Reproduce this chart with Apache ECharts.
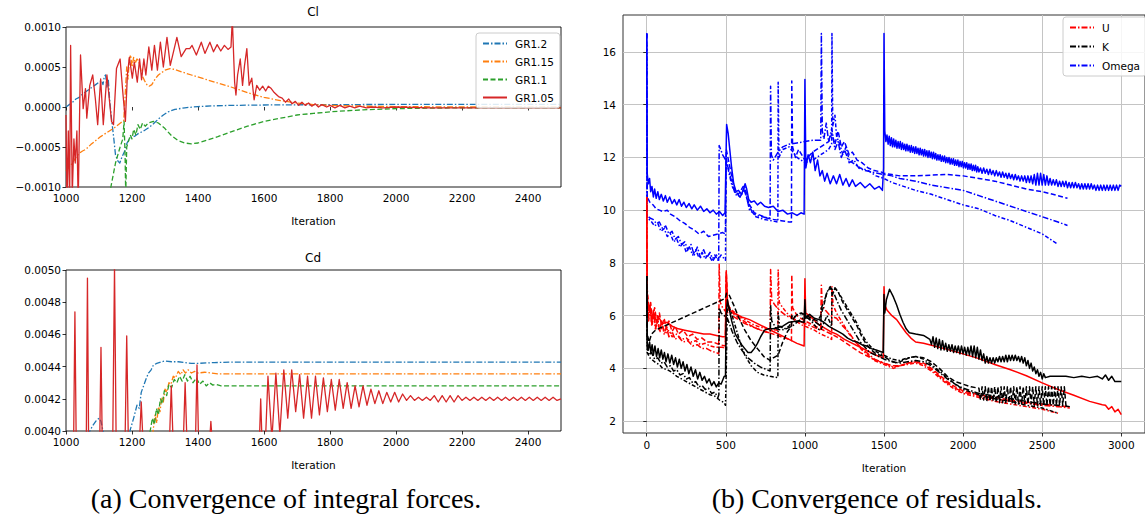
<!DOCTYPE html>
<html>
<head>
<meta charset="utf-8">
<script src="https://cdn.jsdelivr.net/npm/echarts@6/dist/echarts.min.js"></script>
<style>
  html, body { margin: 0; padding: 0; background: #fff; }
  #main { width: 1145px; height: 519px; }
</style>
</head>
<body>
<div id="main"></div>
<script>
// ---- data: [iteration, value] ----
const grNames = ['GR1.2', 'GR1.15', 'GR1.1', 'GR1.05']
const leftTicksX = [1000, 1200, 1400, 1600, 1800, 2000, 2200, 2400]
const rightTicksX = [0, 500, 1000, 1500, 2000, 2500, 3000]
const rightTicksY = [2, 4, 6, 8, 10, 12, 14, 16]

// Cl
const clGR12 = [[1000,0],[1010,0.00003],[1020,0.00006],[1030,0.0001],[1040,0.00012],[1050,0.00016],[1060,0.00019],[1070,0.00022],[1080,0.00025],[1090,0.00028],[1100,0.00031],[1108,0.00033],[1112,0.00028],[1116,0.00038],[1120,0.0004],[1124,0.00025],[1128,0.00035],[1132,0.0001],[1138,-0.00015],[1145,-0.0004],[1150,-0.0006],[1158,-0.00068],[1163,-0.0007],[1170,-0.00062],[1178,-0.00055],[1185,-0.00045],[1192,-0.0004],[1200,-0.00038],[1210,-0.00036],[1220,-0.00033],[1235,-0.0003],[1250,-0.00026],[1265,-0.00021],[1280,-0.00015],[1295,-0.0001],[1310,-0.00006],[1330,-0.00003],[1360,-0.00001],[1400,0.000005],[1450,0.000015],[1500,0.00002],[1600,0.000025],[1800,0.00003],[2000,0.000032],[2500,0.000033]]
const clGR115 = [[1000,-0.0008],[1010,-0.00075],[1020,-0.0007],[1030,-0.00063],[1040,-0.00058],[1050,-0.00055],[1060,-0.00053],[1075,-0.00047],[1090,-0.00042],[1105,-0.00037],[1120,-0.00033],[1135,-0.00029],[1150,-0.00025],[1165,-0.0002],[1175,-0.00017],[1180,0.0002],[1184,0.0005],[1188,0.00035],[1192,0.0006],[1196,0.00065],[1200,0.0005],[1205,0.00062],[1210,0.00055],[1215,0.0006],[1220,0.00058],[1225,0.0005],[1230,0.0004],[1238,0.00033],[1245,0.00028],[1252,0.00026],[1260,0.00028],[1270,0.00035],[1280,0.0004],[1290,0.00043],[1300,0.00046],[1315,0.00048],[1330,0.00047],[1350,0.00044],[1380,0.0004],[1420,0.00035],[1460,0.0003],[1500,0.00025],[1550,0.00018],[1600,0.00012],[1650,0.00008],[1700,0.00005],[1750,0.00003],[1800,0.00002],[1900,0.00001],[2000,0.000005],[2200,0],[2500,0]]
const clGR11 = [[1130,-0.0012],[1136,-0.001],[1150,-0.0007],[1164,-0.0005],[1172,-0.0004],[1176,-0.00018],[1179,-0.0006],[1181,-0.0011],[1184,-0.0005],[1190,-0.00042],[1195,-0.00035],[1200,-0.0004],[1205,-0.00028],[1212,-0.00035],[1218,-0.00022],[1225,-0.00028],[1232,-0.0002],[1240,-0.00024],[1250,-0.0002],[1265,-0.00018],[1280,-0.0002],[1300,-0.00027],[1320,-0.00036],[1340,-0.00042],[1360,-0.00045],[1380,-0.00046],[1400,-0.00045],[1430,-0.00041],[1460,-0.00037],[1500,-0.00031],[1550,-0.00024],[1600,-0.00018],[1650,-0.00014],[1700,-0.0001],[1750,-0.00008],[1800,-0.00006],[1900,-0.000035],[2000,-0.00002],[2200,-0.00001],[2500,-0.00001]]
const clGR105 = [[1000,-0.0001],[1003,-0.0012],[1007,-0.0003],[1011,-0.0012],[1014,0.00077],[1019,-0.0011],[1024,-0.0004],[1028,-0.0007],[1033,-0.0003],[1037,-0.0012],[1044,0.00065],[1052,-0.00002],[1059,0.00023],[1063,-0.00014],[1072,0.00027],[1081,0.0004],[1089,0.0001],[1096,-0.00022],[1105,0.00035],[1113,-0.00022],[1124,0.0004],[1138,-0.00018],[1144,-0.00022],[1153,0.00048],[1164,0.0006],[1172,0.00019],[1180,-0.00018],[1186,0.0004],[1192,0.00062],[1201,0.00036],[1207,0.00056],[1216,0.00031],[1223,0.0006],[1229,0.00034],[1236,0.0006],[1242,0.0004],[1251,0.00075],[1260,0.00046],[1268,0.00077],[1277,0.00046],[1286,0.00081],[1295,0.0005],[1306,0.00087],[1316,0.00052],[1336,0.00087],[1349,0.00063],[1364,0.00073],[1375,0.00073],[1382,0.00077],[1395,0.00065],[1410,0.00081],[1421,0.00067],[1436,0.00081],[1447,0.00069],[1458,0.00078],[1469,0.0007],[1480,0.00077],[1491,0.00072],[1500,0.00075],[1504,0.0011],[1511,0.00031],[1515,0.00015],[1520,0.0004],[1528,0.0006],[1535,0.00027],[1541,0.00052],[1548,0.00073],[1555,0.00027],[1563,0.00036],[1570,0.00009],[1578,0.00027],[1587,0.00021],[1596,0.00026],[1605,0.0002],[1613,0.00026],[1622,0.00023],[1631,0.00018],[1644,0.00013],[1655,0.00011],[1665,0.00006],[1675,0.0001],[1685,0.00004],[1695,0.00007],[1705,0.00002],[1715,0.00006],[1725,0.00002],[1735,0.00005],[1745,0.00001],[1755,0.00004],[1765,0],[1775,0.00003],[1790,0],[1800,0.00002],[1815,-0.00001],[1830,0.00002],[1845,-0.00001],[1860,0.00001],[1875,-0.00001],[1890,0.00001],[1910,-0.00001],[1930,0],[1960,-0.00001],[2000,0],[2100,-0.00001],[2500,-0.00001]]

// Cd
const cdGR12 = [[1060,0.0039],[1070,0.00399],[1080,0.00403],[1090,0.00406],[1100,0.00408],[1106,0.00406],[1110,0.00402],[1118,0.00396],[1130,0.0039],[1160,0.0038],[1185,0.0039],[1195,0.00401],[1205,0.00408],[1215,0.00416],[1222,0.00414],[1228,0.00424],[1235,0.00428],[1242,0.00432],[1250,0.00436],[1258,0.00438],[1265,0.00441],[1275,0.00442],[1290,0.00443],[1300,0.004435],[1320,0.00443],[1340,0.00443],[1360,0.004425],[1380,0.00442],[1400,0.00442],[1450,0.004425],[1500,0.004428],[2500,0.004428]]
const cdGR115 = [[1258,0.0039],[1265,0.00402],[1270,0.0041],[1275,0.00405],[1280,0.00415],[1285,0.00412],[1290,0.00421],[1295,0.00418],[1300,0.00426],[1305,0.00424],[1312,0.0043],[1318,0.00429],[1325,0.00434],[1332,0.00433],[1340,0.00437],[1348,0.00435],[1355,0.00438],[1362,0.00436],[1370,0.00438],[1380,0.00436],[1390,0.00437],[1400,0.00436],[1420,0.004365],[1440,0.00436],[1460,0.004355],[1500,0.004355],[2500,0.004355]]
const cdGR11 = [[1248,0.0039],[1255,0.004],[1262,0.00408],[1268,0.00404],[1274,0.00414],[1280,0.0041],[1286,0.0042],[1292,0.00417],[1298,0.00425],[1305,0.00422],[1312,0.00429],[1320,0.00427],[1328,0.00432],[1336,0.0043],[1344,0.00434],[1352,0.00431],[1360,0.00435],[1368,0.00431],[1376,0.00434],[1385,0.0043],[1395,0.00433],[1405,0.00429],[1415,0.00431],[1425,0.00428],[1435,0.0043],[1445,0.004285],[1455,0.00429],[1470,0.00428],[1500,0.00428],[2500,0.00428]]
const cdGR105 = [[1000,0.003],[1020,0.0033],[1027,0.00474],[1034,0.0033],[1050,0.003],[1060,0.0035],[1065,0.00495],[1070,0.0035],[1085,0.003],[1100,0.0036],[1106,0.00452],[1112,0.0036],[1130,0.003],[1141,0.0038],[1147,0.00502],[1153,0.0037],[1168,0.003],[1178,0.0038],[1184,0.00459],[1190,0.0038],[1210,0.0032],[1222,0.0039],[1228,0.00418],[1234,0.0039],[1260,0.0033],[1313,0.0039],[1319,0.00428],[1325,0.0039],[1340,0.0034],[1355,0.0039],[1361,0.0043],[1367,0.0039],[1385,0.0034],[1392,0.0039],[1397,0.00441],[1402,0.0039],[1420,0.0035],[1434,0.0039],[1439,0.00406],[1444,0.0039],[1480,0.0033],[1550,0.0033],[1584,0.0038],[1590,0.0042],[1596,0.0038],[1600,0.0037],[1612,0.00434],[1624,0.00395],[1636,0.00436],[1648,0.00398],[1660,0.00438],[1672,0.00408],[1684,0.00438],[1696,0.00412],[1708,0.00435],[1720,0.00408],[1732,0.00434],[1744,0.00408],[1756,0.00434],[1768,0.0041],[1780,0.00433],[1792,0.00412],[1804,0.00432],[1816,0.00413],[1828,0.00432],[1840,0.00414],[1852,0.0043],[1864,0.00414],[1876,0.00428],[1888,0.00415],[1900,0.00428],[1912,0.00416],[1924,0.00426],[1936,0.00417],[1948,0.00425],[1960,0.00417],[1972,0.00424],[1984,0.00418],[1996,0.00424],[2008,0.00418],[2020,0.00423],[2032,0.00419],[2044,0.00422],[2056,0.00419],[2068,0.00421],[2080,0.00419],[2092,0.00421],[2104,0.00419],[2116,0.00422],[2128,0.00418],[2140,0.00422],[2152,0.00418],[2164,0.00422],[2176,0.00418],[2188,0.00422],[2200,0.00419],[2212,0.00421],[2224,0.00419],[2236,0.00421],[2248,0.00419],[2260,0.00421],[2272,0.00419],[2284,0.00421],[2296,0.00419],[2308,0.00421],[2320,0.00419],[2332,0.00421],[2344,0.00419],[2356,0.00421],[2368,0.00419],[2380,0.00421],[2392,0.00419],[2404,0.00421],[2416,0.00419],[2428,0.00421],[2440,0.00419],[2452,0.00421],[2464,0.00419],[2476,0.00421],[2488,0.00419],[2500,0.0042]]

// residuals, runs A (solid), B (dashed), C (dash-dot), D (dash-dot)
const omegaA = [[0,16.7],[3,11.4],[10,11.0],[18,11.2],[25,10.7],[33,10.9],[42,10.5],[50,10.8],[60,10.45],[70,10.7],[80,10.4],[92,10.6],[105,10.35],[118,10.55],[130,10.3],[145,10.5],[160,10.25],[175,10.4],[190,10.2],[205,10.4],[220,10.15],[235,10.3],[250,10.1],[268,10.25],[285,10.05],[300,10.2],[320,10.0],[340,10.15],[360,9.95],[380,10.05],[400,9.9],[420,10.0],[440,9.85],[460,9.95],[480,9.8],[495,9.9],[505,13.25],[515,12.9],[525,12.3],[537,11.6],[550,11.0],[565,10.7],[580,10.75],[600,10.6],[612,10.8],[622,11.0],[632,10.8],[645,10.4],[660,10.3],[680,10.35],[700,10.2],[720,10.3],[745,10.15],[770,10.1],[800,10.15],[830,9.95],[860,10.0],[890,9.85],[920,9.9],[950,9.8],[975,9.9],[995,9.85],[1000,14.95],[1006,11.6],[1020,12.1],[1035,11.8],[1050,12.2],[1065,11.5],[1080,11.9],[1095,11.3],[1110,11.5],[1125,11.1],[1140,11.4],[1160,11.0],[1180,11.3],[1200,11.0],[1220,11.35],[1240,10.95],[1260,11.2],[1280,10.9],[1300,11.15],[1320,10.9],[1350,11.05],[1380,10.85],[1410,11.0],[1440,10.8],[1470,10.9],[1490,10.75],[1497,11.6],[1500,16.7],[1505,13.0],[1512,12.6],[1519,12.85],[1526,12.5],[1533,12.8],[1540,12.45],[1547,12.75],[1554,12.4],[1561,12.7],[1568,12.4],[1575,12.65],[1582,12.35],[1589,12.6],[1596,12.35],[1603,12.6],[1610,12.3],[1617,12.55],[1624,12.3],[1631,12.5],[1638,12.25],[1645,12.5],[1652,12.25],[1659,12.45],[1666,12.2],[1673,12.45],[1680,12.2],[1687,12.4],[1694,12.15],[1701,12.4],[1708,12.15],[1715,12.35],[1722,12.1],[1729,12.35],[1736,12.1],[1743,12.3],[1750,12.05],[1757,12.3],[1764,12.05],[1771,12.25],[1778,12.0],[1785,12.25],[1792,12.0],[1799,12.2],[1806,11.95],[1813,12.2],[1820,11.95],[1827,12.15],[1834,11.9],[1841,12.1],[1848,11.9],[1855,12.1],[1862,11.85],[1869,12.05],[1876,11.85],[1883,12.05],[1890,11.8],[1897,12.0],[1904,11.8],[1911,12.0],[1918,11.75],[1925,11.95],[1932,11.75],[1939,11.95],[1946,11.7],[1953,11.9],[1960,11.7],[1967,11.9],[1974,11.65],[1981,11.85],[1988,11.65],[1995,11.85],[2002,11.6],[2009,11.8],[2016,11.6],[2023,11.8],[2030,11.55],[2037,11.75],[2044,11.55],[2051,11.75],[2058,11.5],[2065,11.7],[2072,11.5],[2079,11.7],[2086,11.45],[2093,11.65],[2100,11.45],[2110,11.6],[2120,11.4],[2130,11.6],[2140,11.4],[2150,11.55],[2160,11.35],[2170,11.55],[2180,11.35],[2190,11.5],[2200,11.3],[2210,11.5],[2220,11.3],[2230,11.45],[2240,11.25],[2250,11.45],[2260,11.25],[2270,11.4],[2280,11.2],[2290,11.4],[2300,11.2],[2310,11.35],[2320,11.15],[2330,11.35],[2340,11.15],[2350,11.3],[2360,11.1],[2370,11.3],[2380,11.1],[2390,11.3],[2400,11.05],[2410,11.3],[2420,11.05],[2430,11.3],[2440,11.0],[2450,11.35],[2460,10.95],[2470,11.4],[2480,10.95],[2490,11.4],[2500,10.95],[2510,11.35],[2520,10.95],[2530,11.3],[2540,10.95],[2550,11.2],[2560,10.95],[2570,11.15],[2580,10.95],[2590,11.15],[2600,10.9],[2610,11.1],[2620,10.9],[2630,11.1],[2640,10.9],[2650,11.1],[2660,10.85],[2670,11.05],[2680,10.85],[2690,11.05],[2700,10.85],[2710,11.05],[2720,10.85],[2730,11.0],[2740,10.8],[2750,11.0],[2760,10.8],[2770,11.0],[2780,10.8],[2790,11.0],[2800,10.8],[2810,11.0],[2820,10.8],[2830,10.95],[2840,10.75],[2850,10.95],[2860,10.75],[2870,10.95],[2880,10.75],[2890,10.95],[2900,10.75],[2910,10.95],[2920,10.75],[2930,10.95],[2940,10.75],[2950,10.95],[2960,10.75],[2970,10.95],[2980,10.75],[2990,10.95],[3000,10.9]]
const omegaB = [[0,16.7],[3,10.5],[20,10.3],[40,10.2],[60,10.05],[80,10.0],[100,9.95],[130,10.0],[150,9.85],[180,9.75],[210,9.6],[240,9.5],[270,9.35],[300,9.25],[330,9.1],[360,9.2],[390,9.0],[420,9.05],[450,9.1],[480,9.15],[497,9.1],[503,12.3],[520,11.8],[540,11.2],[560,10.7],[580,10.6],[610,10.9],[640,10.3],[680,9.9],[720,9.8],[760,9.7],[800,9.65],[850,9.6],[900,9.55],[915,9.55],[917,14.9],[922,12.4],[940,12.0],[960,12.3],[1000,11.9],[1050,12.2],[1100,12.4],[1150,12.6],[1170,12.9],[1190,12.5],[1210,13.0],[1230,12.4],[1250,12.6],[1280,12.1],[1300,12.2],[1330,11.9],[1360,11.8],[1400,11.6],[1440,11.5],[1480,11.45],[1500,11.4],[1550,11.35],[1600,11.3],[1700,11.3],[1800,11.33],[1900,11.35],[2000,11.3],[2100,11.2],[2200,11.1],[2300,10.95],[2400,10.8],[2500,10.7],[2600,10.55],[2660,10.45]]
const omegaC = [[0,16.7],[3,9.8],[20,9.7],[40,9.65],[60,9.5],[80,9.55],[100,9.3],[120,9.4],[140,9.1],[160,9.2],[180,8.9],[200,9.0],[220,8.7],[240,8.8],[260,8.5],[280,8.7],[300,8.3],[320,8.6],[340,8.2],[360,8.5],[380,8.2],[400,8.4],[420,8.1],[440,8.3],[455,8.1],[458,12.45],[480,12.1],[500,11.9],[520,11.5],[540,11.0],[560,10.6],[590,10.5],[620,10.8],[650,10.0],[690,9.8],[730,9.75],[770,9.7],[780,9.7],[783,14.7],[788,12.1],[800,11.9],[830,12.2],[860,12.4],[900,12.5],[950,12.55],[1000,12.6],[1050,12.65],[1100,12.65],[1104,16.7],[1110,13.0],[1120,12.7],[1135,13.3],[1150,12.6],[1170,13.1],[1190,12.3],[1210,12.6],[1230,12.0],[1250,12.3],[1280,11.8],[1310,11.9],[1340,11.6],[1380,11.5],[1420,11.45],[1460,11.4],[1500,11.35],[1550,11.3],[1600,11.2],[1700,11.1],[1800,10.95],[1900,10.85],[2000,10.75],[2100,10.55],[2200,10.35],[2300,10.15],[2400,9.95],[2500,9.75],[2600,9.55],[2660,9.42]]
const omegaD = [[0,16.7],[3,9.7],[25,9.6],[50,9.4],[70,9.5],[90,9.2],[110,9.3],[130,9.0],[150,9.1],[170,8.8],[190,8.9],[210,8.6],[230,8.75],[250,8.4],[270,8.6],[290,8.3],[310,8.5],[330,8.2],[350,8.4],[370,8.15],[390,8.35],[410,8.1],[430,8.3],[450,8.1],[470,8.3],[498,8.1],[502,12.0],[520,11.4],[540,10.9],[560,10.7],[590,10.5],[620,10.9],[650,10.1],[690,9.75],[740,9.65],[790,9.6],[829,9.55],[831,14.85],[836,12.0],[860,12.3],[900,12.4],[950,12.0],[1000,11.8],[1050,11.9],[1100,12.1],[1150,12.3],[1169,12.5],[1171,16.7],[1176,13.2],[1190,13.6],[1200,12.8],[1220,12.5],[1240,12.1],[1260,12.4],[1280,11.9],[1300,11.8],[1350,11.6],[1400,11.5],[1450,11.3],[1500,11.2],[1550,11.05],[1600,10.95],[1700,10.75],[1800,10.6],[1900,10.4],[2000,10.2],[2100,10.05],[2200,9.8],[2300,9.6],[2400,9.35],[2500,9.1],[2600,8.7]]

const kA = [[0,7.5],[3,5.0],[10,4.7],[18,5.0],[26,4.6],[34,4.9],[42,4.5],[52,4.85],[62,4.45],[72,4.75],[82,4.4],[92,4.7],[102,4.35],[112,4.6],[122,4.25],[134,4.55],[146,4.2],[158,4.5],[170,4.15],[182,4.4],[194,4.05],[206,4.35],[218,4.0],[230,4.25],[242,3.9],[254,4.15],[266,3.8],[280,4.05],[294,3.7],[308,3.95],[322,3.6],[336,3.85],[350,3.55],[365,3.7],[380,3.45],[395,3.6],[410,3.35],[425,3.5],[440,3.3],[455,3.45],[470,3.4],[490,3.7],[498,3.7],[502,6.0],[510,6.6],[520,6.3],[537,5.8],[560,5.3],[580,5.1],[600,4.9],[620,4.75],[640,4.6],[660,4.6],[680,4.75],[700,4.95],[720,5.2],[745,5.45],[770,5.5],[800,5.5],[830,5.55],[860,5.6],[900,5.75],[950,5.8],[995,5.75],[1000,6.6],[1005,5.9],[1030,6.05],[1060,5.9],[1090,5.85],[1120,5.75],[1150,5.6],[1180,5.5],[1210,5.4],[1240,5.3],[1270,5.15],[1300,5.05],[1330,5.0],[1360,4.9],[1390,4.85],[1420,4.75],[1450,4.7],[1495,4.6],[1500,6.8],[1505,6.1],[1515,6.6],[1535,7.0],[1560,6.7],[1580,6.4],[1600,6.05],[1620,5.75],[1640,5.5],[1660,5.35],[1700,5.3],[1750,5.25],[1790,5.1],[1800,4.9],[1810,5.2],[1820,4.8],[1830,5.15],[1840,4.75],[1850,5.1],[1860,4.7],[1870,5.05],[1880,4.7],[1890,4.95],[1900,4.65],[1910,4.9],[1920,4.65],[1930,4.9],[1940,4.6],[1950,4.85],[1960,4.6],[1970,4.85],[1980,4.55],[1990,4.85],[2000,4.55],[2010,4.8],[2020,4.5],[2030,4.8],[2040,4.5],[2050,4.85],[2060,4.45],[2070,4.85],[2080,4.4],[2090,4.8],[2100,4.35],[2110,4.7],[2120,4.3],[2130,4.55],[2140,4.2],[2150,4.45],[2160,4.2],[2170,4.4],[2180,4.2],[2190,4.4],[2200,4.2],[2210,4.4],[2220,4.25],[2230,4.45],[2240,4.25],[2250,4.45],[2260,4.25],[2270,4.5],[2280,4.25],[2290,4.5],[2300,4.3],[2310,4.5],[2320,4.3],[2330,4.5],[2340,4.3],[2350,4.45],[2360,4.25],[2370,4.45],[2380,4.2],[2390,4.4],[2400,4.1],[2410,4.3],[2420,4.0],[2430,4.2],[2440,3.9],[2450,4.05],[2460,3.8],[2470,3.95],[2480,3.7],[2490,3.85],[2500,3.6],[2510,3.8],[2520,3.65],[2550,3.7],[2600,3.7],[2650,3.7],[2700,3.65],[2750,3.7],[2800,3.65],[2850,3.7],[2880,3.6],[2900,3.75],[2920,3.55],[2940,3.7],[2960,3.5],[2980,3.5],[3000,3.5]]
const kB = [[0,7.5],[3,5.3],[15,5.0],[30,5.3],[55,5.45],[496,6.65],[505,6.85],[520,6.8],[550,6.4],[580,5.95],[620,5.45],[660,5.05],[700,4.75],[740,4.45],[780,4.3],[800,4.4],[830,4.5],[860,5.0],[890,5.4],[915,5.6],[917,6.0],[930,5.9],[960,6.1],[1000,6.05],[1040,5.9],[1080,5.8],[1100,6.0],[1120,6.4],[1140,6.9],[1160,7.05],[1175,6.8],[1190,7.05],[1210,6.9],[1240,6.5],[1270,6.2],[1300,5.9],[1330,5.6],[1360,5.2],[1390,4.9],[1420,4.7],[1450,4.55],[1500,4.45],[1540,4.3],[1580,4.2],[1620,4.3],[1660,4.4],[1700,4.45],[1750,4.4],[1800,4.25],[1850,4.0],[1900,3.7],[1950,3.5],[2000,3.4],[2050,3.3],[2100,3.25],[2110,2.8],[2120,3.3],[2130,2.8],[2140,3.3],[2150,2.75],[2160,3.3],[2170,2.75],[2180,3.3],[2190,2.75],[2200,3.3],[2210,2.7],[2220,3.3],[2230,2.7],[2240,3.3],[2250,2.7],[2260,3.3],[2270,2.7],[2280,3.3],[2290,2.7],[2300,3.3],[2310,2.7],[2320,3.3],[2330,2.65],[2340,3.3],[2350,2.65],[2360,3.3],[2370,2.65],[2380,3.3],[2390,2.65],[2400,3.3],[2410,2.65],[2420,3.3],[2430,2.65],[2440,3.3],[2450,2.6],[2460,3.3],[2470,2.6],[2480,3.3],[2490,2.6],[2500,3.3],[2510,2.6],[2520,3.3],[2530,2.6],[2540,3.3],[2550,2.6],[2560,3.3],[2570,2.6],[2580,3.3],[2590,2.6],[2600,3.3],[2610,2.6],[2620,3.3],[2630,2.6],[2640,3.3],[2650,2.6],[2660,2.6]]
const kC = [[0,7.5],[3,4.8],[15,4.5],[30,4.6],[50,4.35],[70,4.4],[90,4.2],[110,4.25],[130,4.05],[150,4.1],[170,3.9],[190,3.95],[210,3.75],[230,3.8],[250,3.6],[270,3.65],[290,3.45],[310,3.5],[330,3.3],[350,3.35],[370,3.2],[390,3.25],[410,3.05],[430,3.1],[450,2.9],[456,3.0],[458,6.3],[470,6.1],[490,6.0],[510,5.9],[540,5.4],[570,5.0],[600,4.7],[640,4.4],[680,4.2],[720,4.05],[760,3.95],[780,3.9],[783,6.4],[790,5.8],[820,5.5],[850,5.45],[880,5.5],[920,5.6],[960,5.8],[1000,5.95],[1040,5.85],[1080,5.7],[1100,5.6],[1104,6.3],[1120,6.5],[1140,6.9],[1160,7.1],[1180,6.9],[1200,6.6],[1230,6.2],[1260,5.9],[1290,5.6],[1320,5.3],[1350,5.0],[1380,4.8],[1410,4.6],[1450,4.5],[1500,4.35],[1550,4.25],[1600,4.2],[1650,4.25],[1700,4.3],[1750,4.25],[1800,4.1],[1850,3.85],[1900,3.6],[1950,3.4],[2000,3.25],[2050,3.15],[2100,3.05],[2200,2.95],[2300,2.85],[2400,2.75],[2500,2.65],[2600,2.6],[2675,2.55]]
const kD = [[0,7.5],[3,4.6],[20,4.4],[40,4.3],[60,4.2],[80,4.15],[100,4.0],[130,3.95],[160,3.85],[190,3.7],[220,3.6],[250,3.5],[280,3.4],[310,3.3],[340,3.2],[370,3.1],[400,3.0],[430,2.95],[460,2.8],[490,2.7],[498,2.6],[502,3.7],[510,6.4],[530,6.2],[560,5.6],[590,5.0],[620,4.5],[660,4.1],[700,3.85],[740,3.75],[780,3.7],[829,3.65],[831,6.1],[840,5.6],[870,5.5],[900,5.6],[940,6.0],[980,6.1],[1000,6.0],[1040,5.8],[1080,5.5],[1100,5.45],[1140,6.0],[1169,5.6],[1171,7.0],[1190,7.05],[1210,6.9],[1240,6.6],[1270,6.3],[1300,6.0],[1330,5.7],[1360,5.3],[1390,5.0],[1420,4.8],[1460,4.6],[1500,4.5],[1550,4.35],[1600,4.3],[1650,4.4],[1700,4.45],[1750,4.35],[1800,4.15],[1850,3.9],[1900,3.65],[1950,3.4],[2000,3.2],[2100,3.0],[2200,2.85],[2300,2.75],[2400,2.6],[2500,2.5],[2600,2.3]]

const uA = [[0,10.5],[3,6.8],[10,6.2],[20,6.4],[30,5.9],[45,6.1],[60,5.8],[80,5.9],[100,5.7],[130,5.75],[160,5.6],[200,5.5],[240,5.45],[280,5.4],[320,5.35],[360,5.3],[400,5.3],[440,5.25],[480,5.2],[497,5.2],[503,7.65],[510,6.6],[520,6.2],[550,6.1],[600,5.95],[650,5.85],[700,5.7],[750,5.55],[800,5.4],[850,5.25],[900,5.1],[950,4.95],[995,4.85],[1000,7.4],[1005,6.1],[1030,6.0],[1080,5.7],[1120,5.55],[1160,5.4],[1200,5.3],[1250,5.1],[1300,4.95],[1350,4.8],[1400,4.65],[1450,4.5],[1495,4.4],[1500,7.1],[1505,6.4],[1520,6.2],[1550,6.0],[1580,5.85],[1610,5.6],[1640,5.35],[1670,5.15],[1700,5.0],[1750,4.95],[1800,4.88],[1900,4.72],[2000,4.55],[2100,4.37],[2200,4.15],[2300,3.95],[2400,3.72],[2500,3.45],[2600,3.2],[2700,2.98],[2800,2.75],[2880,2.62],[2900,2.6],[2920,2.45],[2940,2.55],[2960,2.35],[2980,2.45],[3000,2.25]]
const uB = [[0,10.5],[3,7.0],[15,6.2],[25,6.5],[35,5.8],[50,6.3],[65,5.7],[80,6.1],[95,5.6],[110,5.9],[125,5.5],[140,5.8],[160,5.4],[180,5.6],[200,5.3],[230,5.45],[260,5.2],[290,5.3],[320,5.1],[350,5.15],[380,5.0],[420,5.0],[460,4.9],[497,4.85],[503,7.7],[510,6.5],[530,6.2],[560,6.0],[600,5.85],[650,5.65],[700,5.5],[750,5.4],[800,5.3],[850,5.2],[900,5.1],[915,5.05],[917,7.55],[922,6.3],[950,6.0],[1000,5.8],[1050,5.65],[1100,5.5],[1150,5.35],[1200,5.2],[1250,5.0],[1300,4.8],[1350,4.6],[1400,4.45],[1450,4.3],[1500,4.2],[1550,4.1],[1600,4.1],[1650,4.2],[1700,4.25],[1750,4.2],[1800,4.0],[1850,3.75],[1900,3.5],[1950,3.3],[2000,3.15],[2100,3.0],[2200,2.9],[2300,2.8],[2400,2.72],[2500,2.65],[2600,2.58],[2660,2.55]]
const uC = [[0,10.5],[3,6.5],[12,5.9],[22,6.4],[32,5.7],[42,6.2],[55,5.5],[68,6.0],[80,5.4],[95,5.8],[110,5.3],[125,5.6],[140,5.2],[160,5.4],[180,5.1],[200,5.2],[230,5.0],[260,5.05],[290,4.85],[320,4.9],[350,4.75],[380,4.75],[410,4.65],[440,4.6],[455,4.55],[458,7.95],[465,6.5],[480,6.3],[500,6.15],[540,6.0],[580,5.85],[620,5.7],[660,5.6],[700,5.5],[740,5.4],[780,5.35],[783,7.75],[790,6.6],[810,6.4],[840,6.2],[880,6.0],[920,5.9],[960,5.8],[1000,5.7],[1040,5.6],[1080,5.5],[1100,5.45],[1104,7.15],[1110,6.4],[1130,6.2],[1160,6.0],[1200,5.9],[1240,5.6],[1280,5.35],[1320,5.0],[1360,4.75],[1400,4.55],[1440,4.35],[1480,4.25],[1520,4.15],[1560,4.05],[1600,4.1],[1650,4.2],[1700,4.25],[1750,4.15],[1800,3.95],[1850,3.7],[1900,3.45],[1950,3.25],[2000,3.1],[2100,2.95],[2200,2.85],[2300,2.75],[2400,2.68],[2500,2.6],[2600,2.55],[2675,2.5]]
const uD = [[0,10.5],[3,6.3],[12,5.8],[22,6.2],[32,5.6],[45,6.0],[58,5.5],[70,5.8],[85,5.4],[100,5.6],[120,5.3],[140,5.45],[160,5.2],[190,5.3],[220,5.1],[250,5.15],[280,5.0],[310,5.05],[340,4.9],[370,4.95],[400,4.85],[440,4.8],[480,4.8],[498,4.75],[502,7.5],[510,6.4],[540,6.2],[580,6.0],[620,5.85],[660,5.7],[700,5.6],[760,5.5],[829,5.45],[831,7.75],[838,6.5],[860,6.3],[900,6.0],[940,5.8],[980,5.65],[1020,5.55],[1060,5.45],[1100,5.3],[1140,5.2],[1169,5.1],[1171,7.1],[1178,6.4],[1200,6.1],[1240,5.7],[1280,5.3],[1320,5.0],[1360,4.7],[1400,4.5],[1440,4.3],[1480,4.2],[1520,4.1],[1560,4.0],[1600,4.1],[1650,4.15],[1700,4.2],[1750,4.1],[1800,3.9],[1850,3.65],[1900,3.4],[1950,3.2],[2000,3.05],[2100,2.9],[2200,2.75],[2300,2.65],[2400,2.55],[2500,2.45],[2600,2.3]]

// ---- styles ----
const FONT = 'DejaVu Sans'
const DASHDOT = [6, 2, 1.5, 2]
const DASHDOT2 = [4, 2, 1.5, 2]
const DASHED = [5, 2.5]
const grColors = ['#1f77b4', '#ff7f0e', '#2ca02c', '#d62728']
const grDash = [DASHDOT, DASHDOT, DASHED, 'solid']

function line(name, data, color, dash, idx, width) {
    return {
        name: name,
        type: 'line',
        data: data,
        xAxisIndex: idx,
        yAxisIndex: idx,
        symbol: 'none',
        clip: true,
        silent: true,
        lineStyle: { color: color, width: width, type: dash, cap: 'butt', join: 'round' },
        itemStyle: { color: color }
    }
}

function coefLabel(v) {
    var s = Math.abs(v).toFixed(4)
    return (v < -1e-12 ? '\u2212' : '') + s
}

function plain(v) {
    return String(Math.round(v))
}

const tickLabel = { fontFamily: FONT, fontSize: 10.5, color: '#000' }

function leftX(idx) {
    return {
        type: 'value', gridIndex: idx, min: 1000, max: 2500,
        name: 'Iteration', nameLocation: 'middle', nameGap: 28,
        nameTextStyle: { fontFamily: FONT, fontSize: 10.5, color: '#000' },
        axisLine: { show: false },
        axisTick: { length: 3.5, lineStyle: { color: '#000', width: 0.8 }, customValues: leftTicksX },
        axisLabel: Object.assign({ margin: 5, customValues: leftTicksX, formatter: plain }, tickLabel),
        splitLine: { show: false }
    }
}

function leftY(idx, min, max, step) {
    return {
        type: 'value', gridIndex: idx, min: min, max: max, interval: step,
        axisLine: { show: false },
        axisTick: { show: true, length: 3.5, lineStyle: { color: '#000', width: 0.8 } },
        axisLabel: Object.assign({ margin: 5, formatter: coefLabel }, tickLabel),
        splitLine: { show: false }
    }
}

function legendBox(left, top, names, gap) {
    return {
        left: left, top: top, orient: 'vertical', data: names,
        itemWidth: 24, itemHeight: 10, itemGap: gap,
        padding: [5, 6, 5, 6],
        backgroundColor: 'rgba(255,255,255,0.85)',
        borderColor: '#cccccc', borderWidth: 1, borderRadius: 3,
        itemStyle: { opacity: 0 },
        textStyle: { fontFamily: FONT, fontSize: 10.5, color: '#000', padding: [0, 0, 0, 3] },
        selectedMode: false
    }
}

var series = []
var clData = [clGR12, clGR115, clGR11, clGR105]
var cdData = [cdGR12, cdGR115, cdGR11, cdGR105]
for (var i = 0; i < 4; i++) series.push(line(grNames[i], clData[i], grColors[i], grDash[i], 0, 1.3))
for (var j = 0; j < 4; j++) series.push(line(grNames[j], cdData[j], grColors[j], grDash[j], 1, 1.3))

// legend icons take the first series of each name, so the dash-dot run goes first
var runs = [
    ['Omega', '#0000ff', [omegaC, omegaD, omegaB, omegaA]],
    ['U', '#ff0000', [uC, uD, uB, uA]],
    ['K', '#000000', [kC, kD, kB, kA]]
]
var runDash = [DASHDOT, DASHDOT2, DASHED, 'solid']
runs.forEach(function (r) {
    r[2].forEach(function (d, k) {
        series.push(line(k === 0 ? r[0] : r[0] + ' run' + k, d, r[1], runDash[k], 2, 1.5))
    })
})

var chart = echarts.init(document.getElementById('main'), null, { renderer: 'svg' })
chart.setOption({
    animation: false,
    backgroundColor: '#ffffff',
    grid: [
        { left: 66, top: 27, width: 495, height: 160, show: true, borderColor: '#000', borderWidth: 0.9, backgroundColor: 'transparent' },
        { left: 66, top: 270, width: 495, height: 161, show: true, borderColor: '#000', borderWidth: 0.9, backgroundColor: 'transparent' },
        { left: 623, top: 15, width: 528, height: 418, show: true, borderColor: '#333', borderWidth: 1, backgroundColor: 'transparent' }
    ],
    xAxis: [
        leftX(0),
        leftX(1),
        {
            type: 'value', gridIndex: 2, min: -150, max: 3150,
            name: 'Iteration', nameLocation: 'middle', nameGap: 29,
            nameTextStyle: { fontFamily: FONT, fontSize: 10.5, color: '#000' },
            axisLine: { show: false },
            axisTick: { length: 3.5, lineStyle: { color: '#000', width: 0.8 }, customValues: rightTicksX },
            axisLabel: Object.assign({ margin: 6, customValues: rightTicksX, formatter: plain }, tickLabel),
            splitLine: { show: true, lineStyle: { color: '#c4c4c4', width: 1 } }
        }
    ],
    yAxis: [
        leftY(0, -0.001, 0.001, 0.0005),
        leftY(1, 0.004, 0.005, 0.0002),
        {
            type: 'value', gridIndex: 2, min: 1.55, max: 17.4,
            axisLine: { show: false },
            axisTick: { length: 3.5, lineStyle: { color: '#000', width: 0.8 }, customValues: rightTicksY },
            axisLabel: Object.assign({ margin: 7, customValues: rightTicksY, formatter: plain }, tickLabel),
            splitLine: { show: true, lineStyle: { color: '#c4c4c4', width: 1 } }
        }
    ],
    legend: [
        legendBox(476, 33, grNames, 7),
        legendBox(1063, 17, ['U', 'K', 'Omega'], 8)
    ],
    graphic: [
        { type: 'text', x: 313, y: 12, style: { text: 'Cl', font: '12px "DejaVu Sans"', fill: '#000', textAlign: 'center', textVerticalAlign: 'middle' } },
        { type: 'text', x: 313, y: 258, style: { text: 'Cd', font: '12px "DejaVu Sans"', fill: '#000', textAlign: 'center', textVerticalAlign: 'middle' } },
        { type: 'text', x: 286, y: 498, style: { text: '(a) Convergence of integral forces.', font: '28px "Liberation Serif"', fill: '#000', textAlign: 'center', textVerticalAlign: 'middle' } },
        { type: 'text', x: 877, y: 498, style: { text: '(b) Convergence of residuals.', font: '28px "Liberation Serif"', fill: '#000', textAlign: 'center', textVerticalAlign: 'middle' } }
    ],
    series: series
})
</script>
</body>
</html>
